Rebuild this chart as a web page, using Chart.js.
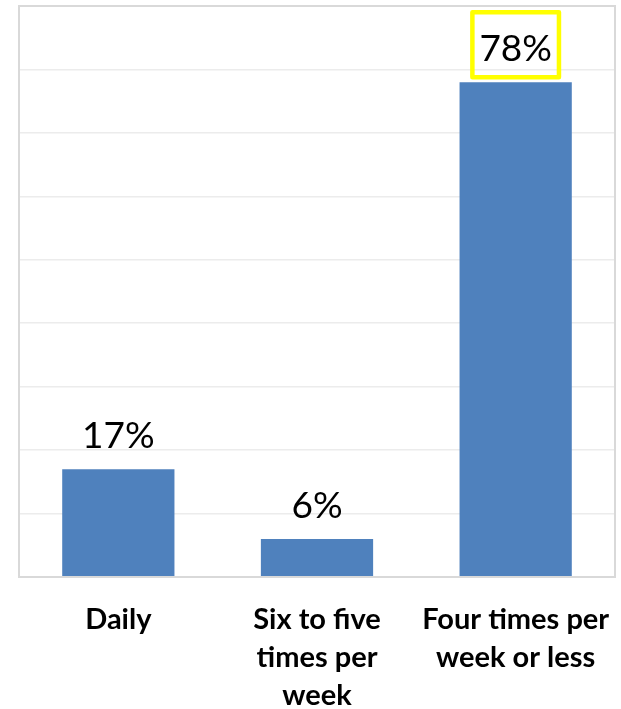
<!DOCTYPE html>
<html>
<head>
<meta charset="utf-8">
<script src="https://cdn.jsdelivr.net/npm/chart.js@4"></script>
<style>
  html, body { margin: 0; padding: 0; background: #ffffff; }
  #wrap { width: 621px; height: 709px; position: relative; }
</style>
</head>
<body>
<div id="wrap"><canvas id="chart"></canvas></div>
<script>
// Frequency categories (multi-line tick labels) and their shares in percent
const categories = [
  ["Daily"],
  ["Six to five", "times per", "week"],
  ["Four times per", "week or less"]
];
const shares = [17, 6, 78];
const highlightIndex = 2;   // the bar whose value label is framed

const BAR_COLOR = "#4f81bd";
const GRID_COLOR = "#ececec";
const BORDER_COLOR = "#d9d9d9";
const FONT = "Lato, Carlito, 'Open Sans', sans-serif";

// Frame around the plot area and the value labels above the bars
const annotate = {
  id: "annotate",
  afterDraw(chart) {
    const { ctx, chartArea: a } = chart;
    ctx.save();
    ctx.strokeStyle = BORDER_COLOR;
    ctx.lineWidth = 2;
    ctx.strokeRect(a.left, a.top, a.right - a.left, a.bottom - a.top);

    const meta = chart.getDatasetMeta(0);
    ctx.font = "37px " + FONT;
    ctx.fillStyle = "#000000";
    ctx.textAlign = "center";
    ctx.textBaseline = "alphabetic";
    meta.data.forEach((bar, i) => {
      const text = shares[i] + "%";
      const baseY = bar.y - 21;
      ctx.fillText(text, bar.x, baseY);
      if (i === highlightIndex) {
        const w = ctx.measureText(text).width;
        ctx.strokeStyle = "#ffff00";
        ctx.lineWidth = 4.5;
        ctx.lineJoin = "round";
        const padX = 7, top = baseY - 49, h = 65;
        ctx.strokeRect(bar.x - w / 2 - padX, top, w + padX * 2, h);
      }
    });
    ctx.restore();
  }
};

new Chart(document.getElementById("chart"), {
  type: "bar",
  data: {
    labels: categories,
    datasets: [{
      data: shares,
      backgroundColor: BAR_COLOR,
      borderWidth: 0,
      categoryPercentage: 0.565,
      barPercentage: 1.0
    }]
  },
  options: {
    responsive: true,
    maintainAspectRatio: false,
    animation: false,
    layout: { padding: { left: 19, right: 6, top: 6, bottom: 0 } },
    plugins: {
      legend: { display: false },
      tooltip: { enabled: false }
    },
    scales: {
      x: {
        grid: { display: false, drawTicks: false },
        border: { display: false },
        ticks: {
          color: "#000000",
          font: { family: FONT, size: 29, weight: "bold", lineHeight: 1.31 },
          padding: 24,
          maxRotation: 0,
          autoSkip: false
        },
        afterFit(scale) {
          scale.height = 132;
          // let the wide outer labels overhang instead of shrinking the plot
          scale.paddingLeft = 0;
          scale.paddingRight = 0;
        }
      },
      y: {
        min: 0,
        max: 90,
        ticks: { display: false, stepSize: 10 },
        grid: { color: GRID_COLOR, lineWidth: 1.5, drawTicks: false },
        border: { display: false },
        afterFit(scale) { scale.width = 0; }
      }
    }
  },
  plugins: [annotate]
});
</script>
</body>
</html>
